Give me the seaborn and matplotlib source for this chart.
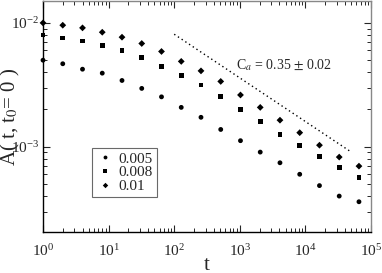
import numpy as np
import pandas as pd
import matplotlib
matplotlib.use("Agg")
import matplotlib.pyplot as plt
from matplotlib.ticker import LogLocator, NullFormatter
import seaborn as sns

# data
t = [1, 2, 4, 8, 16, 32, 64, 128, 256, 512, 1024, 2048, 4096, 8192, 16384, 32768, 65536]
a_0005 = [5.0e-3, 4.68e-3, 4.23e-3, 3.93e-3, 3.43e-3, 2.96e-3, 2.53e-3, 2.08e-3, 1.73e-3,
          1.38e-3, 1.12e-3, 9.06e-4, 7.43e-4, 6.0e-4, 4.86e-4, 4.0e-4, 3.6e-4]
a_0008 = [8.0e-3, 7.56e-3, 7.15e-3, 6.6e-3, 5.95e-3, 5.22e-3, 4.48e-3, 3.79e-3, 3.15e-3,
          2.55e-3, 2.01e-3, 1.61e-3, 1.26e-3, 1.03e-3, 8.37e-4, 6.78e-4, 5.67e-4]
a_001 = [1.0e-2, 9.58e-3, 9.12e-3, 8.41e-3, 7.67e-3, 6.82e-3, 5.88e-3, 4.89e-3, 4.1e-3,
         3.37e-3, 2.62e-3, 2.08e-3, 1.64e-3, 1.30e-3, 1.03e-3, 8.26e-4, 6.98e-4]
labels = ["0.005", "0.008", "0.01"]

# guide line with slope -C_a
fit_t = [100, 48000]
fit_a = [8.1e-3, 9.2e-4]

df = pd.DataFrame({
    "t": t * 3,
    "A": a_0005 + a_0008 + a_001,
    "rate": [labels[0]] * len(t) + [labels[1]] * len(t) + [labels[2]] * len(t),
})

sns.set_style("ticks")
plt.rcParams["font.family"] = ["Liberation Serif", "DejaVu Serif"]
plt.rcParams["mathtext.fontset"] = "stix"

fig = plt.figure(figsize=(3.82, 2.73), dpi=100)
ax = fig.add_axes([0.1126, 0.150, 0.8586, 0.846])

sns.scatterplot(data=df, x="t", y="A", hue="rate", style="rate",
                palette=["black"] * 3, markers={"0.005": "o", "0.008": "s", "0.01": "D"},
                s=12, edgecolor="none", linewidth=0, clip_on=False, ax=ax)
sns.lineplot(x=fit_t, y=fit_a, color="black", linestyle=(0, (1, 2.2)), linewidth=1.0,
             ax=ax, legend=False)

ax.set_xscale("log")
ax.set_yscale("log")
ax.set_xlim(1, 1e5)
ax.set_ylim(2.05e-4, 1.5e-2)

ax.xaxis.set_major_locator(LogLocator(base=10, numticks=10))
ax.xaxis.set_minor_locator(LogLocator(base=10, subs=np.arange(2, 10), numticks=10))
ax.xaxis.set_minor_formatter(NullFormatter())
ax.yaxis.set_major_locator(LogLocator(base=10, numticks=10))
ax.yaxis.set_minor_locator(LogLocator(base=10, subs=np.arange(2, 10), numticks=10))
ax.yaxis.set_minor_formatter(NullFormatter())

ax.tick_params(which="both", direction="in", top=True, right=True, labelsize=11)
ax.tick_params(axis="x", pad=8)
ax.tick_params(axis="y", pad=3)
ax.tick_params(which="major", length=5, width=0.8)
ax.tick_params(which="minor", length=3, width=0.7)

for side in ["left", "bottom"]:
    ax.spines[side].set_color("black")
    ax.spines[side].set_linewidth(1.0)
for side in ["top", "right"]:
    ax.spines[side].set_color("#888888")
    ax.spines[side].set_linewidth(1.0)

ax.set_xlabel("t", fontsize=15)
ax.xaxis.set_label_coords(0.5, -0.105)
ax.set_ylabel(r"A( t, t$_0$= 0 )", fontsize=15)
ax.yaxis.set_label_coords(-0.065, 0.5)

ax.text(880, 4.56e-3, r"C$_a$ = 0.35 $\pm$ 0.02", fontsize=10, va="center", ha="left")

leg = ax.legend(loc="lower left", bbox_to_anchor=(0.149, 0.152), frameon=True, fancybox=False,
                fontsize=11, handletextpad=0.3, borderpad=0.25, labelspacing=0.0,
                handlelength=1.2, borderaxespad=0, markerscale=0.8)
leg.get_frame().set_edgecolor("#444444")
leg.get_frame().set_linewidth(0.8)

fig.savefig("out.png", dpi=100)
